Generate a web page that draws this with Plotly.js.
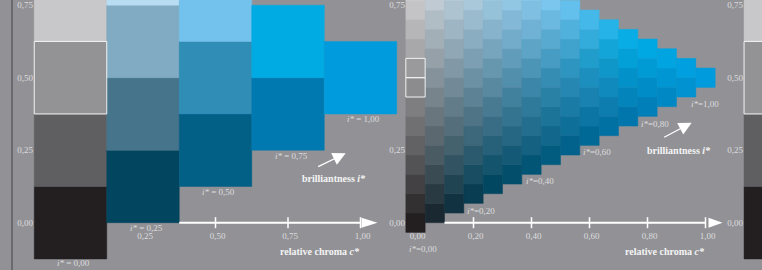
<!DOCTYPE html>
<html><head><meta charset="utf-8">
<script src="https://cdn.plot.ly/plotly-3.0.1.min.js"></script>
<style>html,body{margin:0;padding:0;background:#929296;} #chart{width:762px;height:270px;}</style>
</head><body><div id="chart"></div>
<script>
// ---------------- data ----------------
const chroma5      = [0.00, 0.25, 0.50, 0.75, 1.00];   // relative chroma c*, 5-step panel
const whiteness5   = [0.00, 0.25, 0.50, 0.75, 1.00];   // steps towards white, 5-step panel
const brilliance5  = [0.00, 0.25, 0.50, 0.75, 1.00];   // i* labels, 5-step panel
const chroma16     = [0.0000, 0.0667, 0.1333, 0.2000, 0.2667, 0.3333, 0.4000, 0.4667,
                      0.5333, 0.6000, 0.6667, 0.7333, 0.8000, 0.8667, 0.9333, 1.0000];
const whiteness16  = [0.0000, 0.0667, 0.1333, 0.2000, 0.2667, 0.3333, 0.4000, 0.4667,
                      0.5333, 0.6000, 0.6667, 0.7333, 0.8000, 0.8667, 0.9333, 1.0000];
const brilliance16 = [0.00, 0.20, 0.40, 0.60, 0.80, 1.00];   // i* labels, 16-step panel
const chromaTicks5  = [0.25, 0.50, 0.75, 1.00];
const chromaTicks16 = [0.00, 0.20, 0.40, 0.60, 0.80, 1.00];
const lightTicks    = [0.00, 0.25, 0.50, 0.75];
const referenceLightness = 0.50;   // outlined mid-grey reference

// ---------------- style ----------------
// measured colours of the 5-step panel: [chroma index][whiteness index]
const hueColours5 = [
  ['#231f20', '#5f5f61', '#939396', '#c8c8ca', '#ffffff'],
  ['#02455e', '#46758b', '#80abc3', '#b8ddf2'],
  ['#025f85', '#2f8db6', '#72c2ed'],
  ['#0078b0', '#00abe4'],
  ['#009bdd']
];
const BG = '#929296';
const FONT = 'Liberation Serif, Times New Roman, serif';
const TICKCOL = '#dcdcde';
const PX = 290;             // pixels per unit on both axes
const W = 762, H = 270;

const fmt = v => v.toFixed(2).replace('.', ',');
const hex2rgb = h => [1,3,5].map(i => parseInt(h.substr(i,2),16));
const rgb2str = a => 'rgb(' + a.map(v => Math.round(v)).join(',') + ')';

// colour of a cell with chroma c and whiteness w, from the measured 5-step colours
function colourAt(c, w) {
  const u = c * 4, v = w * 4;
  const i = Math.min(Math.floor(u + 1e-6), 4);
  const j = Math.min(Math.floor(v + 1e-6), 4 - i);
  const fu = Math.max(0, u - i), fv = Math.max(0, v - j);
  const P = (a, b) => hex2rgb(hueColours5[a][b]);
  if (i + j >= 4 || (fu < 1e-6 && fv < 1e-6)) return rgb2str(P(i, j));
  let out;
  if (fu + fv <= 1 + 1e-9) {
    const a = P(i, j), b = P(i + 1, j), d = P(i, j + 1);
    out = a.map((x, k) => x * (1 - fu - fv) + b[k] * fu + d[k] * fv);
  } else {
    const a = P(i + 1, j + 1), b = P(i, j + 1), d = P(i + 1, j);
    out = a.map((x, k) => x * (fu + fv - 1) + b[k] * (1 - fu) + d[k] * (1 - fv));
  }
  return rgb2str(out);
}

function cells(chroma, whiteness, onlyGrey) {
  const step = chroma[1] - chroma[0];
  const x = [], base = [], h = [], wd = [], col = [], hx = [], hb = [];
  chroma.forEach(c => {
    if (onlyGrey && c > 0) return;
    whiteness.forEach(w => {
      if (c + w > 1 + 1e-6) return;
      const L = c / 2 + w;
      x.push(c); base.push(L - step / 2); h.push(step); wd.push(step);
      col.push(colourAt(c, w));
      if (c === 0 && Math.abs(L - referenceLightness) <= step / 2 + 1e-3) { hx.push(c); hb.push(L - step / 2); }
    });
  });
  return {x, base, h, wd, col, hx, hb, step};
}

function barTraces(cs, xa, ya) {
  return [{
    type: 'bar', x: cs.x, y: cs.h, base: cs.base, width: cs.wd, xaxis: xa, yaxis: ya,
    marker: {color: cs.col, line: {color: cs.col, width: 0.5}}, hoverinfo: 'skip', showlegend: false
  }, {
    type: 'bar', x: cs.hx, y: cs.hx.map(() => cs.step), base: cs.hb, width: cs.hx.map(() => cs.step),
    xaxis: xa, yaxis: ya,
    marker: {color: 'rgba(0,0,0,0)', line: {color: '#f2f2f2', width: 1}}, hoverinfo: 'skip', showlegend: false
  }];
}

const c5 = cells(chroma5, whiteness5, false);
const c16 = cells(chroma16, whiteness16, false);
const c5g = cells(chroma5, whiteness5, true);

const data = [].concat(barTraces(c5, 'x', 'y'), barTraces(c16, 'x2', 'y2'), barTraces(c5g, 'x3', 'y3'));

// ---------------- axes ----------------
const yRange = [(222.7 - H) / PX, 222.7 / PX];
const axisPos = (H - 222.7) / H;
const tickfont = {family: FONT, size: 9, color: TICKCOL};
const baseX = {showgrid: false, zeroline: false, showline: false, ticks: '', tickfont,
               anchor: 'free', position: axisPos, ticklabelstandoff: 6, ticklabelshift: 2, fixedrange: true};
const baseY = {showgrid: false, zeroline: false, showline: false, ticks: '', tickfont, range: yRange,
               anchor: 'free', side: 'left', ticklabelstandoff: 1, ticklabelshift: -2.3, fixedrange: true};

const layout = {
  width: W, height: H, margin: {l: 0, r: 0, t: 0, b: 0, pad: 0},
  paper_bgcolor: BG, plot_bgcolor: BG, showlegend: false, barmode: 'overlay', bargap: 0,
  font: {family: FONT},
  xaxis:  Object.assign({}, baseX, {range: [-70.5 / PX, (W - 70.5) / PX],
           tickvals: chromaTicks5, ticktext: chromaTicks5.map(fmt)}),
  xaxis2: Object.assign({}, baseX, {overlaying: 'x', range: [-415.5 / PX, (W - 415.5) / PX],
           tickvals: chromaTicks16, ticktext: chromaTicks16.map(fmt)}),
  xaxis3: Object.assign({}, baseX, {overlaying: 'x', range: [-780.3 / PX, (W - 780.3) / PX], showticklabels: false}),
  yaxis:  Object.assign({}, baseY, {position: 34 / W, tickvals: lightTicks, ticktext: lightTicks.map(fmt)}),
  yaxis2: Object.assign({}, baseY, {overlaying: 'y', position: 406 / W,
           tickvals: lightTicks.filter(v => v !== 0.5), ticktext: lightTicks.filter(v => v !== 0.5).map(fmt)}),
  yaxis3: Object.assign({}, baseY, {overlaying: 'y', position: 744 / W, tickvals: lightTicks, ticktext: lightTicks.map(fmt)}),
  shapes: [], annotations: []
};

// frame line on the left
layout.shapes.push({type: 'line', xref: 'paper', yref: 'paper', x0: 12 / W, x1: 12 / W, y0: 0, y1: 1,
                    line: {color: '#6a6a6d', width: 2}});

// chroma axes with arrow heads and tick marks
function chromaAxis(xa, ya, start, ticks, headPath) {
  layout.shapes.push({type: 'line', xref: xa, yref: ya, x0: start, x1: 1, y0: 0, y1: 0, line: {color: '#ffffff', width: 2}});
  layout.shapes.push({type: 'path', xref: xa, yref: ya, xsizemode: 'pixel', ysizemode: 'pixel',
                      xanchor: 1, yanchor: 0, path: headPath, fillcolor: '#ffffff', line: {width: 0}});
  ticks.forEach(t => {
    if (t < start) return;
    layout.shapes.push({type: 'line', xref: xa, yref: ya, x0: t, x1: t, ysizemode: 'pixel', yanchor: 0,
                        y0: -5.5, y1: 5.5, line: {color: '#ffffff', width: 1.5}});
  });
}
chromaAxis('x', 'y', chroma5[1] + c5.step / 2, chromaTicks5, 'M1,5 L17,0 L1,-5 Z');
chromaAxis('x2', 'y2', chroma16[1] + c16.step / 2, chromaTicks16, 'M3,5 L17,0 L3,-5 Z');

// i* labels
brilliance5.forEach(v => {
  layout.annotations.push({xref: 'x', yref: 'y', x: v, y: v / 2 - c5.step / 2, xshift: 3, yshift: v === 0 ? -4 : -5.5,
    text: '<i>i*</i> = ' + fmt(v), showarrow: false, xanchor: 'center', yanchor: 'middle',
    font: {family: FONT, size: 9, color: TICKCOL}});
});
const shifts16 = [[7.5, -17], [7.5, -8], [8, -7], [7.5, -6.6], [7.8, -8], [-1, -16.3]];
brilliance16.forEach((v, k) => {
  layout.annotations.push({xref: 'x2', yref: 'y2', x: v, y: v / 2 - c16.step / 2, xshift: shifts16[k][0], yshift: shifts16[k][1],
    text: '<i>i*</i>=' + fmt(v), showarrow: false, xanchor: 'center', yanchor: 'middle',
    font: {family: FONT, size: 9, color: TICKCOL}});
});

// axis titles and brilliantness arrows
[['x', 'y', 69.4, 44, -14.8, 14], ['x2', 'y2', 100, 72.4, -13.8, 15.3]].forEach(([xa, ya, tipY, labY, tipX, ay]) => {
  layout.annotations.push({xref: xa, yref: ya, x: 1, y: 0, xshift: -40.5, yshift: -28.6,
    text: '<b>relative chroma <i>c*</i></b>', showarrow: false, font: {family: FONT, size: 10, color: '#f4f4f4'}});
  layout.annotations.push({xref: xa, yref: ya, x: 1, y: 0, xshift: -26.5, yshift: labY,
    text: '<b>brilliantness <i>i*</i></b>', showarrow: false, font: {family: FONT, size: 10, color: '#f4f4f4'}});
  layout.annotations.push({xref: xa, yref: ya, x: 1, y: 0, xshift: tipX, yshift: tipY, text: '',
    showarrow: true, arrowhead: 2, arrowsize: 2, arrowwidth: 1.3, arrowcolor: '#ffffff', ax: -29, ay: ay});
});

Plotly.newPlot('chart', data, layout, {staticPlot: true, displayModeBar: false});
</script></body></html>
